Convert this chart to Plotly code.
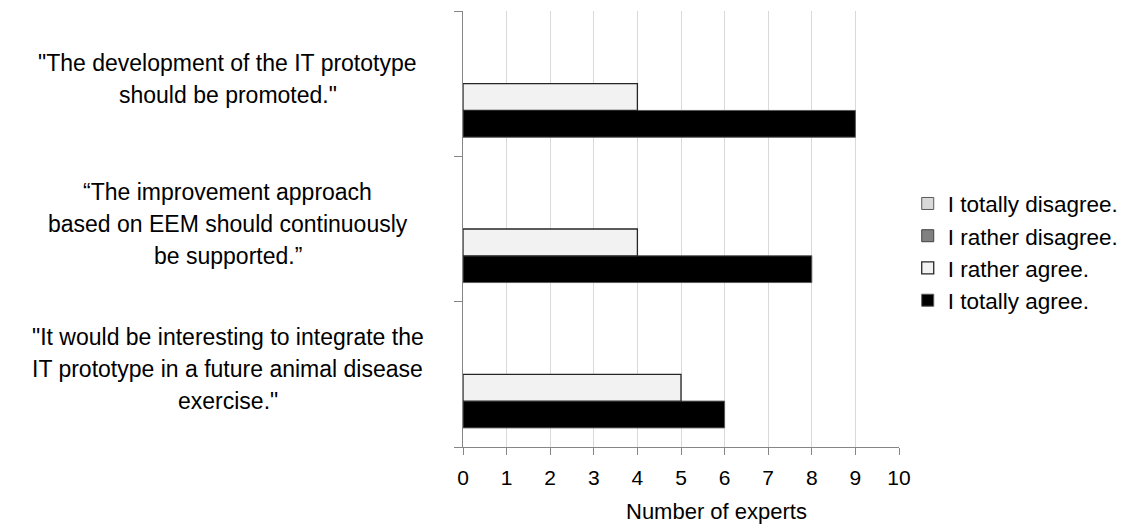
import plotly.graph_objects as go

# Survey statements, bottom to top as drawn on the category axis
statements = [
    ['"It would be interesting to integrate the',
     'IT prototype in a future animal disease',
     'exercise."'],
    ['\u201cThe improvement approach',
     'based on EEM should continuously',
     'be supported.\u201d'],
    ['"The development of the IT prototype',
     'should be promoted."'],
]
categories = ["integrate", "improvement", "development"]

# Number of experts per answer option
totally_disagree = [0, 0, 0]
rather_disagree = [0, 0, 0]
rather_agree = [5, 4, 4]
totally_agree = [6, 8, 9]

FONT = "Liberation Sans, Arial, sans-serif"
AXIS_GREY = "#868686"

fig = go.Figure()
# Traces are added bottom-to-top within each group; legend is reversed
series = [
    ("I totally agree.", totally_agree, "#000000", "#595959", 1.0),
    ("I rather agree.", rather_agree, "#f2f2f2", "#262626", 1.3),
    ("I rather disagree.", rather_disagree, "#808080", "#404040", 1.0),
    ("I totally disagree.", totally_disagree, "#d9d9d9", "#595959", 1.0),
]
for name, vals, fill, edge, lw in series:
    # zero counts leave an empty slot rather than a hairline bar
    shown = [v if v else None for v in vals]
    fig.add_trace(go.Bar(
        y=categories, x=shown, name=name, orientation="h",
        marker=dict(color=fill, line=dict(color=edge, width=lw)),
    ))

# Category labels: centred multi-line text, one annotation per line
LINE_STEP = 32
annotations = []
for cat, lines in zip(categories, statements):
    n = len(lines)
    for i, line in enumerate(lines):
        shift = ((n - 1) / 2 - i) * LINE_STEP + 5
        annotations.append(dict(
            xref="paper", yref="y", x=-0.539, y=cat, yshift=shift,
            text=line, showarrow=False, xanchor="center", yanchor="middle",
            font=dict(family=FONT, size=23, color="#000000"),
        ))

annotations.append(dict(
    xref="paper", yref="paper", x=0.582, y=-0.149,
    text="Number of experts", showarrow=False,
    xanchor="center", yanchor="middle",
    font=dict(family=FONT, size=22, color="#000000"),
))

fig.update_layout(
    width=1141, height=532,
    margin=dict(l=463, r=242, t=11, b=85),
    paper_bgcolor="white", plot_bgcolor="white",
    barmode="group", bargap=0.263, bargroupgap=0,
    font=dict(family=FONT, color="#000000"),
    showlegend=True,
    legend=dict(
        traceorder="reversed",
        x=1.02, xanchor="left", y=0.607, yanchor="top",
        font=dict(family=FONT, size=22.5, color="#000000"),
        bgcolor="rgba(0,0,0,0)",
    ),
    annotations=annotations,
)

fig.update_xaxes(
    range=[0, 10], dtick=1, tick0=0,
    showgrid=True, gridcolor="#d9d9d9", gridwidth=1,
    showline=True, linecolor=AXIS_GREY, linewidth=1,
    ticks="outside", ticklen=7, tickcolor=AXIS_GREY,
    tickfont=dict(family=FONT, size=21, color="#000000"),
    ticklabelstandoff=5,
    zeroline=False,
)
fig.update_yaxes(
    type="category", categoryarray=categories, range=[-0.5, 2.5],
    showgrid=False, showline=True, linecolor=AXIS_GREY, linewidth=1,
    ticks="outside", tickson="boundaries", ticklen=8, tickcolor=AXIS_GREY,
    showticklabels=False, zeroline=False,
)

fig.write_html("out.html")
